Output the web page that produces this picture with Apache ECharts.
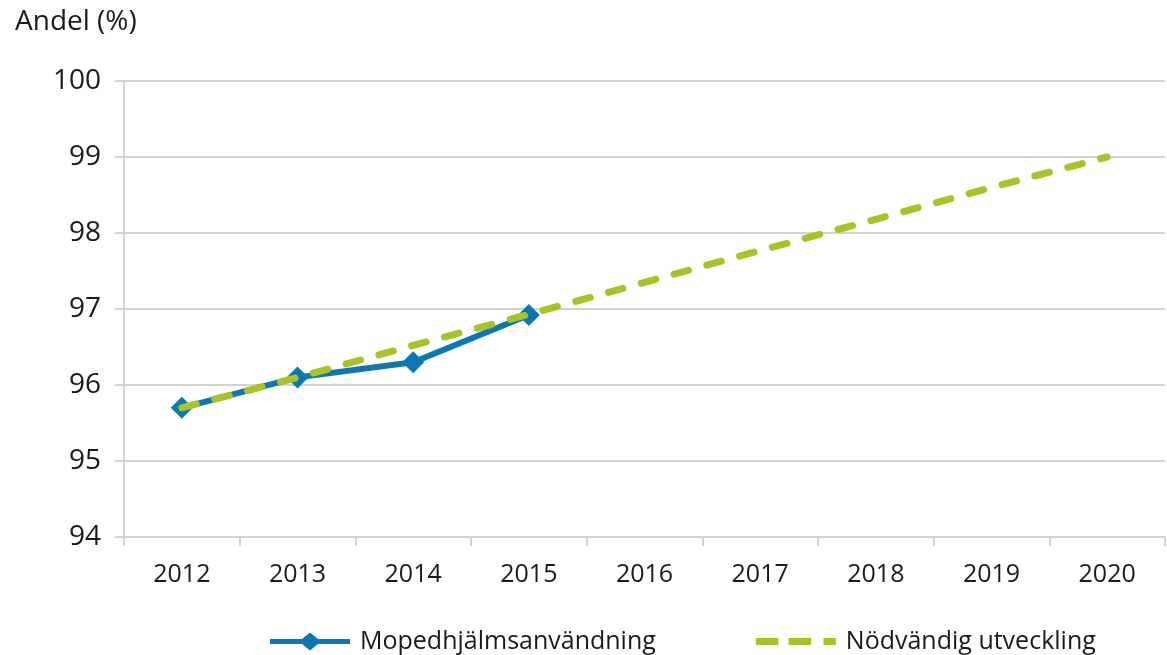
<!DOCTYPE html>
<html>
<head>
<meta charset="utf-8">
<script src="https://cdn.jsdelivr.net/npm/echarts@6/dist/echarts.min.js"></script>
<style>
  html, body { margin: 0; padding: 0; background: #fff; }
  #main { width: 1167px; height: 655px; }
</style>
</head>
<body>
<div id="main"></div>
<script>
// data
var years = ['2012', '2013', '2014', '2015', '2016', '2017', '2018', '2019', '2020'];
var helmetUse = [95.7, 96.1, 96.3, 96.92];
var neededPath = [95.7, 96.1, 96.52, 96.93, 97.35, 97.77, 98.18, 98.6, 99.0];

var myChart = echarts.init(document.getElementById('main'));
var font = '"Open Sans", sans-serif';
var grey = '#d6d2cc';
var ink = '#1a1a1a';

// legend icons: line with a diamond, and three dashes
var blueIcon = 'path://M0,7.5 L32,7.5 L40,1 L48,7.5 L80,7.5 L80,12.5 L48,12.5 L40,19 L32,12.5 L0,12.5 Z';
var greenIcon = 'path://M0,7 L20,7 L20,13 L0,13 Z M29,7 L49,7 L49,13 L29,13 Z M60,7 L71,7 L71,13 L60,13 Z';

var option = {
    animation: false,
    title: {
        text: 'Andel (%)',
        left: 10,
        top: 3,
        textStyle: { fontFamily: font, fontSize: 28, fontWeight: 'normal', color: ink }
    },
    grid: { left: 124, right: 2, top: 81, bottom: 118 },
    legend: {
        top: 624,
        left: 265,
        itemWidth: 80,
        itemHeight: 20,
        itemGap: 100,
        textStyle: { fontFamily: font, fontSize: 25, color: ink, padding: [0, 0, 0, 5] },
        data: [
            { name: 'Mopedhjälmsanvändning', icon: blueIcon, itemStyle: { color: '#0a78b2' } },
            { name: 'Nödvändig utveckling', icon: greenIcon, itemStyle: { color: '#a8c424' } }
        ]
    },
    xAxis: {
        type: 'category',
        data: years,
        boundaryGap: true,
        axisLine: { lineStyle: { color: grey, width: 2 } },
        axisTick: { show: true, length: 9, lineStyle: { color: grey, width: 2 } },
        axisLabel: { margin: 25, fontFamily: font, fontSize: 25, color: ink }
    },
    yAxis: {
        type: 'value',
        min: 94,
        max: 100,
        interval: 1,
        axisLine: { show: true, lineStyle: { color: grey, width: 2 } },
        axisTick: { show: true, length: 9, lineStyle: { color: grey, width: 2 } },
        splitLine: { lineStyle: { color: grey, width: 2 } },
        axisLabel: { margin: 23, fontFamily: font, fontSize: 28, color: ink }
    },
    series: [
        {
            name: 'Mopedhjälmsanvändning',
            type: 'line',
            data: helmetUse,
            symbol: 'diamond',
            symbolSize: 22,
            itemStyle: { color: '#0a78b2' },
            lineStyle: { color: '#0a78b2', width: 6 },
            z: 2
        },
        {
            name: 'Nödvändig utveckling',
            type: 'line',
            data: neededPath,
            symbol: 'none',
            itemStyle: { color: '#a8c424' },
            lineStyle: { color: '#a8c424', width: 7, type: [15, 19], cap: 'round' },
            z: 3
        }
    ]
};
myChart.setOption(option);
</script>
</body>
</html>
